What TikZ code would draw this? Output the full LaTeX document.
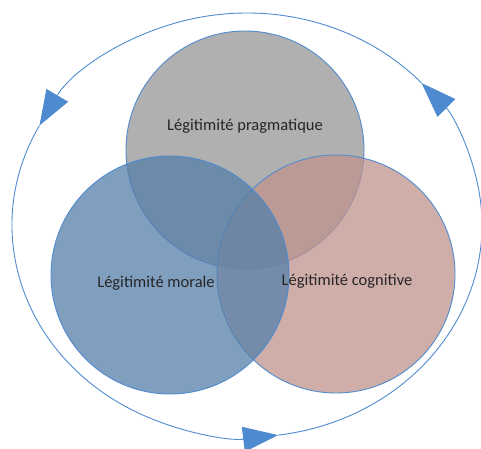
\documentclass[tikz,border=0pt]{standalone}
\usepackage{fontspec}
\setmainfont{Carlito}
\usetikzlibrary{arrows.meta}
\definecolor{lineblue}{RGB}{79,139,207}
\definecolor{tipblue}{RGB}{78,138,208}
\definecolor{pragcol}{RGB}{176,176,176}
\definecolor{cogcol}{RGB}{191,147,142}
\definecolor{morcol}{RGB}{86,127,170}
\begin{document}
\begin{tikzpicture}[x=1pt, y=1pt,
    venn/.style={circle, draw=lineblue, line width=0.9pt, minimum size=238pt, inner sep=0pt},
    lbl/.style={font=\fontsize{16.5}{20}\selectfont, text=black!85},
    cycle arrow/.style={draw=lineblue, line width=0.9pt,
      -{Triangle[length=35pt, width=25pt, fill=tipblue]}}
    ]
    \useasboundingbox (0,0) rectangle (481,448);
    \node[venn, fill=pragcol] (prag) at (245,298) {};
    \node[venn, fill=cogcol, fill opacity=0.75] (cog) at (336,174) {};
    \node[venn, fill=morcol, fill opacity=0.75] (mor) at (170,173) {};
    \node[lbl] (pragtxt) at (245,322) {Légitimité pragmatique};
    \node[lbl] (mortxt) at (156,165) {Légitimité morale};
    \node[lbl] (cogtxt) at (347,167) {Légitimité cognitive};
    % outer cycle
    \coordinate (loop) at (247,223);
    \draw[cycle arrow] ([shift={(42:235pt and 212pt)}]loop)
      arc[start angle=42, end angle=152, x radius=235pt, y radius=212pt];
    \draw[cycle arrow] ([shift={(152:235pt and 212pt)}]loop)
      arc[start angle=152, end angle=277.6, x radius=235pt, y radius=212pt];
    \draw[cycle arrow] ([shift={(277.6:235pt and 212pt)}]loop)
      arc[start angle=277.6, end angle=402, x radius=235pt, y radius=212pt];
  \end{tikzpicture}
\end{document}
